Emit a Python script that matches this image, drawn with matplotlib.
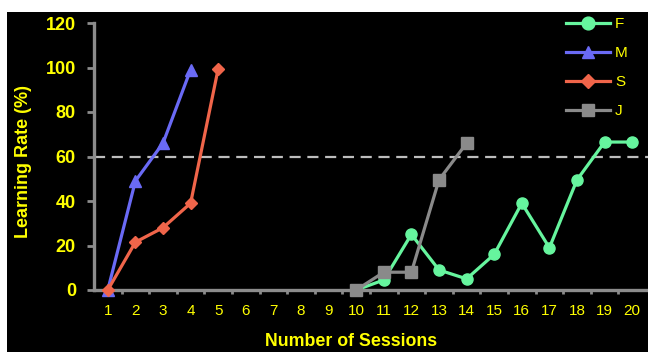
import matplotlib
matplotlib.use("Agg")
import matplotlib.pyplot as plt
from matplotlib.patches import Rectangle

plt.rcParams['font.family'] = ['Liberation Sans', 'DejaVu Sans']

sessions = list(range(1, 21))
F_x = [10, 11, 12, 13, 14, 15, 16, 17, 18, 19, 20]
F_y = [0, 4.5, 25, 9, 5, 16, 39, 19, 49.5, 66.5, 66.5]
M_x = [1, 2, 3, 4]
M_y = [0, 49, 66, 99]
S_x = [1, 2, 3, 4, 5]
S_y = [0, 21.5, 28, 39, 99.5]
J_x = [10, 11, 12, 13, 14]
J_y = [0, 8, 8, 49.5, 66]
threshold = 60
yticks = [0, 20, 40, 60, 80, 100, 120]

W, H = 648, 352
fig = plt.figure(figsize=(W / 100, H / 100), dpi=100, facecolor='white')
fig.patches.append(Rectangle((7 / W, 0), 1 - 7 / W, (H - 12) / H,
                             transform=fig.transFigure, facecolor='black',
                             edgecolor='none', zorder=-10))

ax = fig.add_axes([94 / W, (H - 290) / H, (646 - 94) / W, (290 - 23) / H])
ax.set_facecolor('none')

yellow = '#FFFF00'
axis_gray = '#8C8C8C'
green = '#66F59E'
blue = '#6A6AF5'
red = '#F0654A'
gray = '#8A8A8A'

ax.axhline(threshold, color='#BDBDBD', lw=1.6, ls=(0, (5, 3)), zorder=1,
           xmin=0, xmax=1.02, clip_on=False)

lw = 2.3
ax.plot(F_x, F_y, color=green, lw=lw, marker='o', ms=8, label='F', clip_on=False, zorder=3)
ax.plot(M_x, M_y, color=blue, lw=lw, marker='^', ms=8, label='M', clip_on=False, zorder=3)
ax.plot(S_x, S_y, color=red, lw=lw, marker='D', ms=6.5, label='S', clip_on=False, zorder=3)
ax.plot(J_x, J_y, color=gray, lw=lw, marker='s', ms=8, label='J', clip_on=False, zorder=3)

ax.set_xlim(0.5, 20.5)
ax.set_ylim(0, 120)

for s in ['top', 'right']:
    ax.spines[s].set_visible(False)
for s in ['left', 'bottom']:
    ax.spines[s].set_color(axis_gray)
    ax.spines[s].set_linewidth(2.4)
    ax.spines[s].set_zorder(2)

ax.set_xticks(sessions)
ax.set_xticklabels([str(s) for s in sessions])
ax.set_xticks([s + 0.5 for s in sessions[:-1]], minor=True)
ax.tick_params(axis='x', which='major', length=0, pad=10, labelsize=11, labelcolor=yellow)
ax.tick_params(axis='x', which='minor', length=3, width=2, color=axis_gray, direction='out')
ax.set_yticks(yticks)
ax.tick_params(axis='y', which='major', length=5, width=2, color=axis_gray, pad=8,
               labelsize=13, labelcolor=yellow)
for t in ax.get_yticklabels():
    t.set_fontweight('bold')

fig.text(24 / W, 1 - 162 / H, 'Learning Rate (%)', rotation=90, color=yellow,
         fontsize=13, fontweight='bold', ha='center', va='center')
fig.text(351 / W, 1 - 342 / H, 'Number of Sessions', color=yellow,
         fontsize=12.8, fontweight='bold', ha='center', va='center')

leg = ax.legend(loc='upper left', bbox_to_anchor=(566 / W, 1 - 17 / H),
                bbox_transform=fig.transFigure, frameon=False, numpoints=1,
                handlelength=2.9, handletextpad=0.3, labelspacing=0.98,
                borderpad=0, borderaxespad=0, fontsize=11, markerscale=1.15)
for t in leg.get_texts():
    t.set_color(yellow)

fig.savefig('out.png', dpi=100, facecolor='white')
